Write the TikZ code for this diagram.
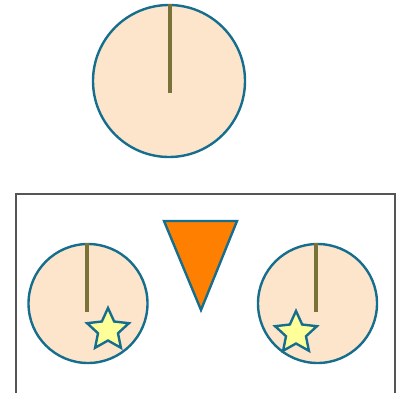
\documentclass[tikz,border=0pt]{standalone}
\usetikzlibrary{shapes.geometric,calc}
\definecolor{ringc}{RGB}{22,110,142}
\definecolor{discf}{RGB}{253,229,204}
\definecolor{handc}{RGB}{122,115,57}
\definecolor{starf}{RGB}{255,255,153}
\definecolor{trif}{RGB}{255,128,0}
\definecolor{framec}{RGB}{85,85,85}
\tikzset{
  disc/.style={circle,draw=ringc,fill=discf,line width=1.8pt,inner sep=0pt},
  hand/.style={draw=handc,line width=3pt},
  starmark/.style={draw=ringc,fill=starf,line width=1.8pt,line join=miter},
  wedge/.style={draw=ringc,fill=trif,line width=1.8pt,line join=miter},
  frame/.style={draw=framec,line width=1.8pt}
}
\begin{document}
\begin{tikzpicture}[x=0.75pt,y=-0.75pt]
\useasboundingbox (0,0) rectangle (402,392);
% frame
\draw[frame] (16,194) rectangle (395,400);
% top disc
\node[disc,minimum size=152*0.75pt] (top) at (169,81) {};
\coordinate (topend) at (170,93);
\draw[hand] (top.north -| topend) -- (topend);
% left disc
\node[disc,minimum size=119*0.75pt] (left) at (88,303.5) {};
\coordinate (leftend) at (87,312);
\draw[hand] (left.north -| leftend) -- (leftend);
% right disc
\node[disc,minimum size=119*0.75pt] (right) at (317.5,303.5) {};
\coordinate (rightend) at (316,312);
\draw[hand] (right.north -| rightend) -- (rightend);
% stars
\coordinate (lstar) at (108,330);
\coordinate (rstar) at (296,333);
\foreach \c in {lstar,rstar}{
  \draw[starmark] ([shift={(\c)}]-90:22)
    \foreach \k in {0,...,4}{ -- ([shift={(\c)}]{-54+72*\k}:10.5) -- ([shift={(\c)}]{-18+72*\k}:22) } -- cycle;
}
% triangle
\coordinate (ta) at (164,221);
\coordinate (tb) at (237,221);
\coordinate (tc) at (201,310);
\draw[wedge] (ta) -- (tb) -- (tc) -- cycle;
\end{tikzpicture}
\end{document}
